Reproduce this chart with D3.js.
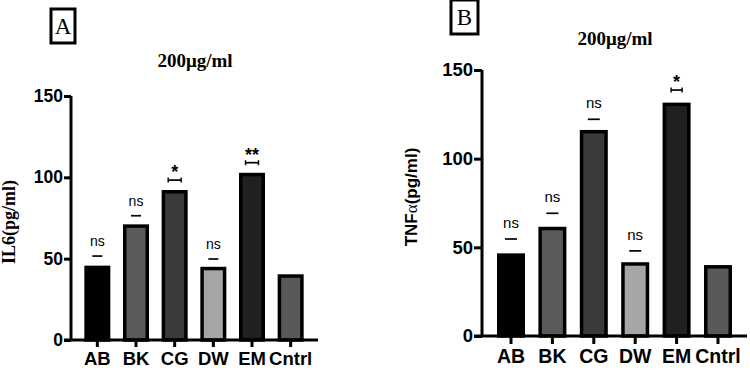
<!DOCTYPE html>
<html>
<head>
<meta charset="utf-8">
<script src="https://cdn.jsdelivr.net/npm/d3@7"></script>
<style>
  html, body { margin: 0; padding: 0; background: #fff; }
  svg { display: block; }
</style>
</head>
<body>
<svg id="chart" width="750" height="371"></svg>
<script>
// ---- data ----
const categories = ["AB", "BK", "CG", "DW", "EM", "Cntrl"];
const il6Values = [45.7, 71.1, 92.2, 45.0, 102.8, 40.4];
const il6Marks = [51.6, 76.4, 98.3, 49.8, 109.0, null];
const il6Labels = ["ns", "ns", "*", "ns", "**", ""];
const tnfValues = [46.6, 61.6, 116.2, 41.6, 131.6, 40.0];
const tnfMarks = [54.7, 69.2, 122.2, 48.0, 138.7, null];
const tnfLabels = ["ns", "ns", "ns", "ns", "*", ""];
const barFills = ["#000000", "#5a5a5a", "#3a3a3a", "#a6a6a6", "#202020", "#595959"];
const yTicks = [0, 50, 100, 150];
const panelLetters = ["A", "B"];
const doseTitle = "200\u03BCg/ml";

const svg = d3.select("#chart");
svg.append("rect").attr("width", 750).attr("height", 371).attr("fill", "#fff");

function panel(cfg) {
  const g = svg.append("g");
  const x = d3.scaleBand().domain(categories).range(cfg.xRange).padding(0);
  const y = d3.scaleLinear().domain([0, 150]).range(cfg.yRange);
  const bw = cfg.barW;

  // bars
  g.selectAll("rect.bar").data(categories).enter().append("rect")
    .attr("class", "bar")
    .attr("x", (d) => x(d) + x.bandwidth() / 2 - bw / 2 + 1.75)
    .attr("width", bw - 3.5)
    .attr("y", (d, i) => y(cfg.values[i]) + 1.75)
    .attr("height", (d, i) => y(0) - y(cfg.values[i]) - 1.75)
    .attr("fill", (d, i) => barFills[i])
    .attr("stroke", "#000")
    .attr("stroke-width", 3.5);

  // marks (significance brackets)
  categories.forEach((c, i) => {
    const m = cfg.marks[i];
    if (m == null) return;
    const cx = x(c) + x.bandwidth() / 2;
    const yy = y(m);
    const sig = cfg.labels[i] !== "ns";
    const hw = sig ? cfg.capHalf : cfg.dashHalf;
    g.append("line").attr("x1", cx - hw).attr("x2", cx + hw)
      .attr("y1", yy).attr("y2", yy).attr("stroke", "#000").attr("stroke-width", 1.7);
    if (sig) {
      [cx - hw, cx + hw].forEach((xx) => {
        g.append("line").attr("x1", xx).attr("x2", xx)
          .attr("y1", yy - 2.5).attr("y2", yy + 2.5).attr("stroke", "#000").attr("stroke-width", 1.4);
      });
      g.append("text").attr("x", cx).attr("y", yy + cfg.starDy)
        .attr("text-anchor", "middle")
        .attr("font-family", "Liberation Sans, Arial, sans-serif")
        .attr("font-weight", "bold").attr("font-size", cfg.starSize)
        .text(cfg.labels[i]);
    } else {
      g.append("text").attr("x", cx).attr("y", yy - cfg.nsGap)
        .attr("text-anchor", "middle")
        .attr("font-family", "Liberation Sans, Arial, sans-serif")
        .attr("font-size", cfg.nsSize)
        .text(cfg.labels[i]);
    }
  });

  // y axis
  const yAxis = d3.axisLeft(y).tickValues(yTicks).tickSize(cfg.yTick).tickPadding(1).tickFormat(d3.format("d"));
  const ya = g.append("g").attr("transform", `translate(${cfg.axisX},0)`).call(yAxis);
  ya.select(".domain").attr("stroke-width", 3).attr("d", `M0,${y(150)}V${y(0)}`);
  ya.selectAll(".tick line").attr("stroke-width", 3);
  ya.selectAll(".tick text").attr("font-family", "Liberation Sans, Arial, sans-serif")
    .attr("font-weight", "bold").attr("font-size", cfg.tickSize).attr("fill", "#000");

  // x axis
  const xAxis = d3.axisBottom(x).tickSize(cfg.xTick).tickPadding(5);
  const xa = g.append("g").attr("transform", `translate(0,${y(0)})`).call(xAxis);
  xa.select(".domain").attr("stroke-width", 3).attr("d", `M${cfg.axisX - cfg.yTick},0H${cfg.xEnd}`);
  xa.selectAll(".tick line").attr("stroke-width", 3);
  xa.selectAll(".tick text").attr("font-family", "Liberation Sans, Arial, sans-serif")
    .attr("font-weight", "bold").attr("font-size", cfg.xTickSize).attr("fill", "#000")
    .attr("dy", "0.72em");

  // panel letter box
  g.append("rect").attr("x", cfg.box[0]).attr("y", cfg.box[1]).attr("width", cfg.box[2]).attr("height", cfg.box[3])
    .attr("fill", "#fff").attr("stroke", "#000").attr("stroke-width", 3);
  g.append("text").attr("x", cfg.box[0] + cfg.box[2] / 2).attr("y", cfg.box[1] + cfg.box[3] / 2 + 8)
    .attr("text-anchor", "middle")
    .attr("font-family", "Liberation Serif, Times New Roman, serif")
    .attr("font-size", 23).text(cfg.letter);

  // dose title
  g.append("text").attr("x", cfg.title[0]).attr("y", cfg.title[1])
    .attr("text-anchor", "middle")
    .attr("font-family", "Liberation Serif, Times New Roman, serif")
    .attr("font-weight", "bold").attr("font-size", 19).text(doseTitle);

  // y label
  const yl = g.append("text")
    .attr("transform", `translate(${cfg.ylab[0]},${cfg.ylab[1]}) rotate(-90)`)
    .attr("text-anchor", "middle")
    .attr("font-weight", "bold");
  cfg.ylabParts.forEach((p) => {
    yl.append("tspan").attr("font-family", p.f).attr("font-size", p.s)
      .attr("font-weight", p.w || "bold").text(p.t);
  });
}

panel({
  values: il6Values, marks: il6Marks, labels: il6Labels,
  xRange: [78, 310], yRange: [340, 96], barW: 26, axisX: 71, xEnd: 318,
  yTick: 7, xTick: 7, tickSize: 17.5, xTickSize: 18.5, nsSize: 14, nsGap: 10, starSize: 18, starDy: -2,
  capHalf: 6.5, dashHalf: 5,
  box: [51, 9, 24, 34], letter: panelLetters[0],
  title: [195, 67], ylab: [15, 222],
  ylabParts: [{ t: "IL6(pg/ml)", f: "Liberation Serif, Times New Roman, serif", s: 18 }]
});

panel({
  values: tnfValues, marks: tnfMarks, labels: tnfLabels,
  xRange: [490.3, 738.7], yRange: [336, 70], barW: 28, axisX: 482, xEnd: 747,
  yTick: 8, xTick: 8, tickSize: 18.5, xTickSize: 19.5, nsSize: 15, nsGap: 11, starSize: 18, starDy: -2,
  capHalf: 5.5, dashHalf: 6,
  box: [451, 0, 27, 34], letter: panelLetters[1],
  title: [615, 45], ylab: [417, 197],
  ylabParts: [
    { t: "TNF", f: "Liberation Sans, Arial, sans-serif", s: 17 },
    { t: "\u03B1", f: "Liberation Serif, Times New Roman, serif", s: 17, w: "normal" },
    { t: "(pg/ml)", f: "Liberation Sans, Arial, sans-serif", s: 17 }
  ]
});
</script>
</body>
</html>
